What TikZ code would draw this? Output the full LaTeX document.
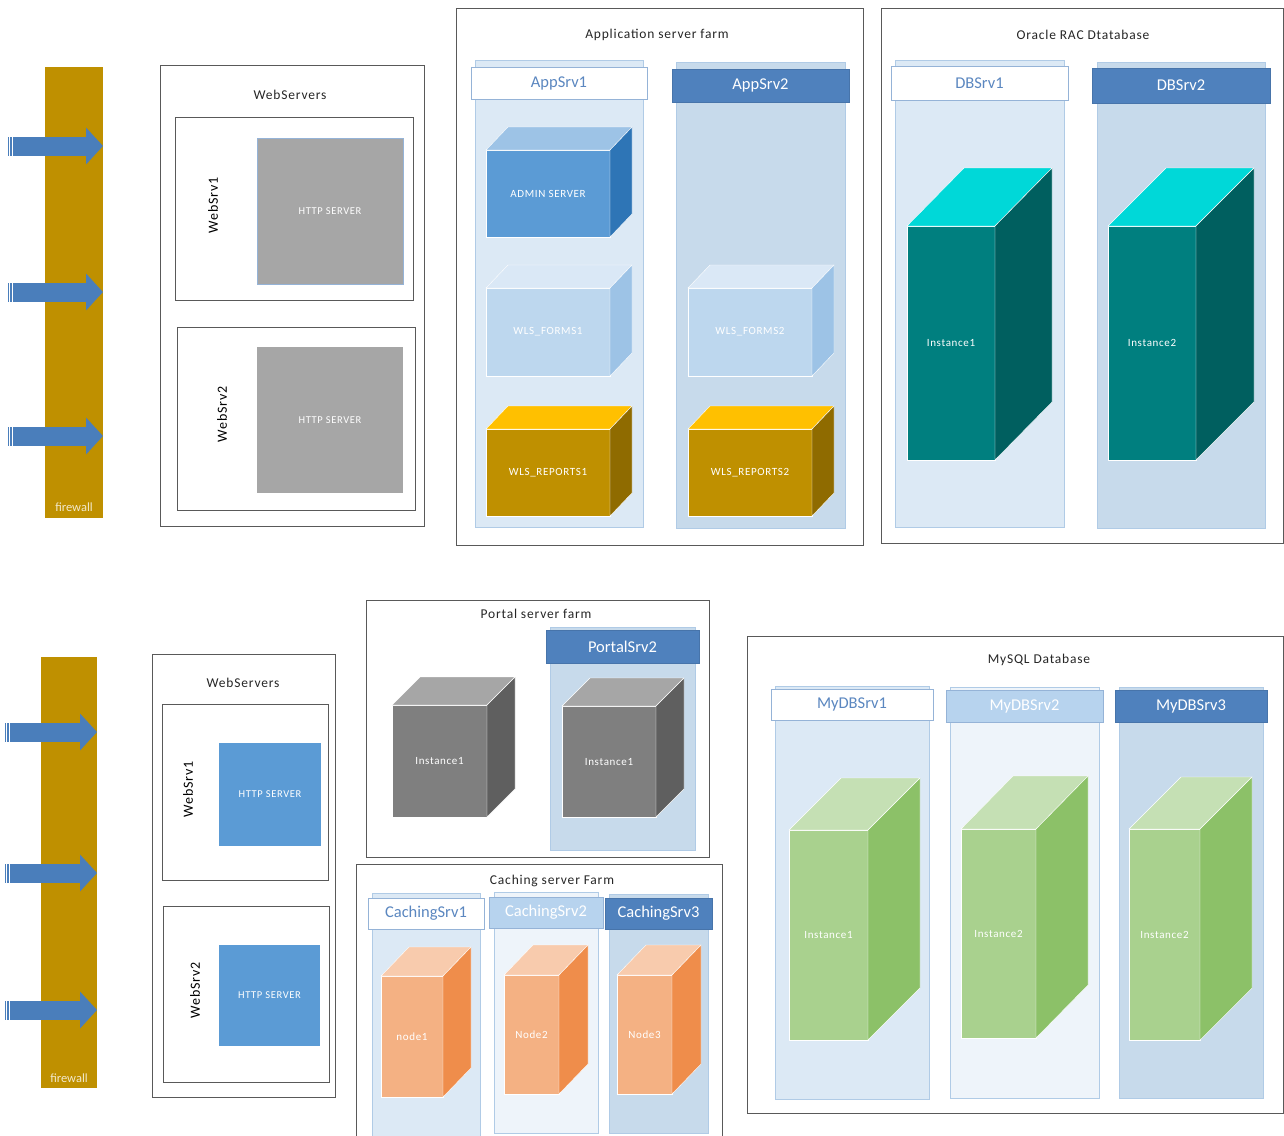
\documentclass[tikz,border=0pt]{standalone}
\usepackage{fontspec}
\setmainfont{Carlito}
\newfontfamily\trackfont{Carlito}[LetterSpace=6]
\usepackage{tikz}
\usetikzlibrary{positioning,fit,arrows.meta}

\definecolor{fwgold}{HTML}{BF9000}
\definecolor{arrowblue}{HTML}{4A7EBB}
\definecolor{hdblue}{HTML}{4F81BD}
\definecolor{hdpale}{HTML}{B7D3EE}
\definecolor{hdtext}{HTML}{5B87C0}
\definecolor{hdline}{HTML}{95B3D7}
\definecolor{colpale}{HTML}{EEF4FA}
\definecolor{collight}{HTML}{DCE9F5}
\definecolor{colmid}{HTML}{C7DAEB}
\definecolor{colline}{HTML}{B0CBE6}
\definecolor{boxline}{HTML}{595959}
\definecolor{httpgray}{HTML}{A6A6A6}
\definecolor{httpblue}{HTML}{5B9BD5}
% cube faces
\definecolor{admtop}{HTML}{9DC3E6}
\definecolor{admfront}{HTML}{5B9BD5}
\definecolor{admside}{HTML}{2E75B6}
\definecolor{frmtop}{HTML}{DAE8F6}
\definecolor{frmfront}{HTML}{BDD7EE}
\definecolor{frmside}{HTML}{9DC3E6}
\definecolor{reptop}{HTML}{FFC000}
\definecolor{repfront}{HTML}{BF9000}
\definecolor{repside}{HTML}{8F6B00}
\definecolor{oratop}{HTML}{00D8D8}
\definecolor{orafront}{HTML}{007F7F}
\definecolor{oraside}{HTML}{005F5F}
\definecolor{prttop}{HTML}{A6A6A6}
\definecolor{prtfront}{HTML}{7F7F7F}
\definecolor{prtside}{HTML}{5F5F5F}
\definecolor{cchtop}{HTML}{F8CBAD}
\definecolor{cchfront}{HTML}{F4B183}
\definecolor{cchside}{HTML}{EF8D4B}
\definecolor{sqltop}{HTML}{C5E0B4}
\definecolor{sqlfront}{HTML}{A9D18E}
\definecolor{sqlside}{HTML}{8CC168}

% #1 colours, #2 name, #3 front top left, #4 front bottom right, #5 #6 depth, #7 label
\newcommand{\srvcube}[7]{%
  \node (#2) [cubefront, fill=#1front, fit={(#3) (#4)}, label={[cubelabel]center:#7}] {};
  \path[cubeface, fill=#1top] (#2.north west) -- ++(#5,-#6)
    -- ([shift={(#5,-#6)}]#2.north east) -- (#2.north east) -- cycle;
  \path[cubeface, fill=#1side] (#2.north east) -- ++(#5,-#6)
    -- ([shift={(#5,-#6)}]#2.south east) -- (#2.south east) -- cycle;
}

\begin{document}
\begin{tikzpicture}[x=1pt, y=-1pt,
  farm/.style={draw=boxline, line width=0.9pt, fill=white, inner sep=0, outer sep=0},
  srvbox/.style={draw=boxline, line width=0.9pt, inner sep=0, outer sep=0},
  farmtitle/.style={font=\trackfont\fontsize{13.5}{16}\selectfont, text=black!85, yshift=-1.5pt},
  column/.style={draw=colline, line width=0.8pt, inner sep=0, outer sep=0},
  header/.style={draw=hdline, line width=0.8pt, inner sep=0, outer sep=0, font=\fontsize{16.5}{19}\selectfont},
  hdlight/.style={header, fill=white, text=hdtext},
  hdmid/.style={header, fill=hdpale, text=white},
  hddark/.style={header, fill=hdblue, text=white, draw=hdblue!90!black},
  cubefront/.style={inner sep=0, outer sep=0, draw=white, line width=0.4pt},
  cubelabel/.style={inner sep=0, text=white, font=\trackfont\fontsize{11}{13}\selectfont},
  cubeface/.style={draw=white, line width=0.4pt},
  httpbox/.style={inner sep=0, outer sep=0, text=white, font=\trackfont\fontsize{10.5}{12}\selectfont},
  srvname/.style={rotate=90, font=\trackfont\fontsize{14}{16}\selectfont},
  firewall/.style={fill=fwgold, inner sep=0, outer sep=0},
  fwtext/.style={text=white!80!fwgold, inner sep=0, font=\fontsize{12.5}{15}\selectfont},
  bigarrow/.style={draw=arrowblue, line width=19pt, -{Triangle[length=17pt,width=36pt]}},
  tailcut/.style={draw=white, line width=0.8pt}]

\useasboundingbox (0,0) rectangle (1284,1135);
\fill[white] (0,0) rectangle (1284,1135);

% ---- upper row ----
\node (fw) [firewall, fit={(45,67) (103,518)}] {};
\node (fwlabel) [fwtext, above=6pt of fw.south] {firewall};
\foreach \y/\n in {146/1, 292/2, 436/3} {
  \coordinate (in\n) at (8,\y);
  \draw[bigarrow] (in\n) -- (in\n -| fw.east);
  \draw[tailcut] ([shift={(1.5,-10)}]in\n) -- ([shift={(1.5,10)}]in\n);
  \draw[tailcut] ([shift={(4.2,-10)}]in\n) -- ([shift={(4.2,10)}]in\n);
}

\node (web) [farm, fit={(160,65) (424,526)}] {};
\node (webtitle) [farmtitle] at (290,93) {WebServers};
\node (ws1) [srvbox, fit={(175,117) (413,300)}] {};
\node (ws1name) [srvname] at (213,205) {WebSrv1};
\node (http1) [httpbox, fill=httpgray, draw=hdline, minimum width=146pt, minimum height=146pt] at (330,211) {HTTP SERVER};
\node (ws2) [srvbox, fit={(177,327) (415,510)}] {};
\node (ws2name) [srvname] at (222,414) {WebSrv2};
\node (http2) [httpbox, fill=httpgray, minimum width=146pt, minimum height=146pt] at (330,420) {HTTP SERVER};

\node (app) [farm, fit={(456,8) (863,545)}] {};
\node (apptitle) [farmtitle] at (657,33) {Application server farm};
\node (appcol1) [column, fill=collight, fit={(475,60) (643,527)}] {};
\node (apphd1) [hdlight, minimum width=176pt, minimum height=32pt] at (559,83) {AppSrv1};
\node (appcol2) [column, fill=colmid, fit={(676,62) (845,528)}] {};
\node (apphd2) [hddark, minimum width=177pt, minimum height=33pt] at (760.5,85.5) {AppSrv2};
\srvcube{adm}{admin}{486,150}{610,237}{22}{23}{ADMIN SERVER}
\srvcube{frm}{forms1}{486,288}{610,376}{22}{23}{WLS\_FORMS1}
\srvcube{rep}{reports1}{486,429}{610,516}{22}{23}{WLS\_REPORTS1}
\srvcube{frm}{forms2}{688,288}{812,376}{22}{23}{WLS\_FORMS2}
\srvcube{rep}{reports2}{688,429}{812,516}{22}{23}{WLS\_REPORTS2}

\node (rac) [farm, fit={(881,8) (1283,543)}] {};
\node (ractitle) [farmtitle] at (1083,33) {Oracle RAC Dtatabase};
\node (dbcol1) [column, fill=collight, fit={(895,60) (1064,527)}] {};
\node (dbhd1) [hdlight, minimum width=177pt, minimum height=34pt] at (979.5,83) {DBSrv1};
\node (dbcol2) [column, fill=colmid, fit={(1097,62) (1265,528)}] {};
\node (dbhd2) [hddark, minimum width=178pt, minimum height=35pt] at (1181,85.5) {DBSrv2};
\srvcube{ora}{inst1}{907,226}{995,460}{57}{58}{Instance1}
\srvcube{ora}{inst2}{1108,226}{1196,460}{58}{58}{Instance2}

% ---- lower row ----
\node (fwb) [firewall, fit={(41,657) (97,1088)}] {};
\node (fwblabel) [fwtext, above=5pt of fwb.south] {firewall};
\foreach \y/\n in {732/1, 873/2, 1010/3} {
  \coordinate (inb\n) at (5,\y);
  \draw[bigarrow] (inb\n) -- (inb\n -| fwb.east);
  \draw[tailcut] ([shift={(1.5,-10)}]inb\n) -- ([shift={(1.5,10)}]inb\n);
  \draw[tailcut] ([shift={(4.2,-10)}]inb\n) -- ([shift={(4.2,10)}]inb\n);
}

\node (webb) [farm, fit={(152,654) (335,1097)}] {};
\node (webbtitle) [farmtitle] at (243,681) {WebServers};
\node (wsb1) [srvbox, fit={(162,704) (328,880)}] {};
\node (wsb1name) [srvname] at (188,789) {WebSrv1};
\node (httpb1) [httpbox, fill=httpblue, minimum width=102pt, minimum height=103pt] at (270,794.5) {HTTP SERVER};
\node (wsb2) [srvbox, fit={(163,906) (329,1082)}] {};
\node (wsb2name) [srvname] at (195,990) {WebSrv2};
\node (httpb2) [httpbox, fill=httpblue, minimum width=101pt, minimum height=101pt] at (269.5,995.5) {HTTP SERVER};

\node (portal) [farm, fit={(366,600) (709,857)}] {};
\node (portaltitle) [farmtitle] at (536,612) {Portal server farm};
\srvcube{prt}{prt1}{392,705}{487,817}{28}{28}{Instance1}
\node (prtcol2) [column, fill=colmid, fit={(550,627) (695,850)}] {};
\node (prthd2) [hddark, minimum width=153pt, minimum height=33pt] at (622.5,646.5) {PortalSrv2};
\srvcube{prt}{prt2}{562,706}{656,817}{28}{28}{Instance1}

\node (cache) [farm, fit={(356,864) (722,1140)}] {};
\node (cachetitle) [farmtitle] at (552,879) {Caching server Farm};
\node (cchcol1) [column, fill=collight, fit={(372,893) (480,1140)}] {};
\node (cchhd1) [hdlight, minimum width=116pt, minimum height=31pt] at (426,913.5) {CachingSrv1};
\node (cchcol2) [column, fill=colpale, fit={(494,892) (598,1133)}] {};
\node (cchhd2) [hdmid, minimum width=114pt, minimum height=31pt] at (546,912.5) {CachingSrv2};
\node (cchcol3) [column, fill=colmid, fit={(609,894) (708,1133)}] {};
\node (cchhd3) [hddark, minimum width=107pt, minimum height=31pt] at (658.5,913.5) {CachingSrv3};
\srvcube{cch}{node1}{381,976}{443,1097}{28}{29}{node1}
\srvcube{cch}{node2}{504,975}{559,1094}{29}{30}{Node2}
\srvcube{cch}{node3}{617,975}{672,1094}{29}{30}{Node3}

\node (mysql) [farm, fit={(747,636) (1283,1113)}] {};
\node (mysqltitle) [farmtitle] at (1039,658) {MySQL Database};
\node (sqlcol1) [column, fill=collight, fit={(775,686) (929,1099)}] {};
\node (sqlhd1) [hdlight, minimum width=162pt, minimum height=31pt] at (852,704.5) {MyDBSrv1};
\node (sqlcol2) [column, fill=colpale, fit={(950,687) (1099,1098)}] {};
\node (sqlhd2) [hdmid, minimum width=157pt, minimum height=32pt] at (1024.5,706) {MyDBSrv2};
\node (sqlcol3) [column, fill=colmid, fit={(1119,687) (1263,1098)}] {};
\node (sqlhd3) [hddark, minimum width=152pt, minimum height=32pt] at (1191,706) {MyDBSrv3};
\srvcube{sql}{my1}{789,830}{868,1040}{52}{52}{Instance1}
\srvcube{sql}{my2}{961,829}{1036,1038}{52}{53}{Instance2}
\srvcube{sql}{my3}{1129,829}{1200,1040}{52}{52}{Instance2}
\end{tikzpicture}
\end{document}
